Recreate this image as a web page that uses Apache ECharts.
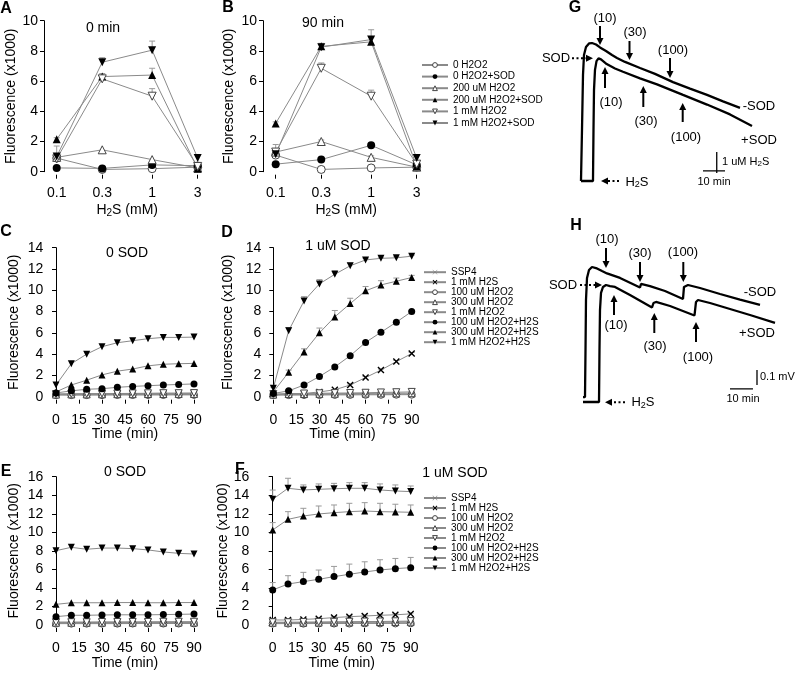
<!DOCTYPE html>
<html><head><meta charset="utf-8">
<script src="https://cdn.jsdelivr.net/npm/echarts@6/dist/echarts.min.js"></script>
<style>html,body{margin:0;padding:0;background:#fff}#c{width:796px;height:673px}</style>
</head><body><div id="c"></div>
<script>
const FONT = 'Liberation Sans, Arial, Helvetica, sans-serif';

// ---------- Panels A / B : fluorescence vs H2S concentration ----------
const h2sConc = [0.1, 0.3, 1, 3];
const abNames = ['0 H2O2', '0 H2O2+SOD', '200 uM H2O2', '200 uM H2O2+SOD', '1 mM H2O2', '1 mM H2O2+SOD'];
const aValues = [
  [0.9, 0.15, 0.2, 0.3],
  [0.25, 0.22, 0.45, 0.4],
  [0.95, 1.45, 0.8, 0.25],
  [2.15, 6.3, 6.4, 0.2],
  [0.85, 6.15, 5.0, 0.35],
  [1.0, 7.25, 8.05, 0.9]
];
const aErrors = [
  [0, 0, 0, 0],
  [0, 0, 0, 0],
  [0, 0, 0, 0],
  [0.1, 0.2, 0.45, 0.1],
  [0.2, 0.2, 0.5, 0.2],
  [0.7, 0.3, 0.6, 0.2]
];
const bValues = [
  [1.1, 0.15, 0.25, 0.3],
  [0.5, 0.8, 1.75, 0.45],
  [1.3, 2.0, 0.95, 0.3],
  [3.2, 8.3, 8.6, 0.35],
  [1.3, 6.85, 5.0, 0.5],
  [1.15, 8.25, 8.75, 0.9]
];
const bErrors = [
  [0, 0, 0, 0],
  [0.1, 0.1, 0.1, 0.1],
  [0.2, 0.1, 0.1, 0],
  [0.1, 0.2, 0.3, 0.1],
  [0.5, 0.35, 0.4, 0.2],
  [0.3, 0.2, 0.65, 0.2]
];

// ---------- Panels C-F : fluorescence vs time ----------
const timeMin = [0, 10, 20, 30, 40, 50, 60, 70, 80, 90];
const cdefNames = ['SSP4', '1 mM H2S', '100 uM H2O2', '300 uM H2O2', '1 mM H2O2', '100 uM H2O2+H2S', '300 uM H2O2+H2S', '1 mM H2O2+H2S'];
const cValues = [
  [0.2, 0.18, 0.2, 0.2, 0.22, 0.2, 0.2, 0.22, 0.2, 0.22],
  [0.25, 0.25, 0.28, 0.28, 0.3, 0.3, 0.3, 0.32, 0.32, 0.32],
  [0.15, 0.15, 0.15, 0.15, 0.16, 0.16, 0.16, 0.16, 0.17, 0.17],
  [0.2, 0.22, 0.22, 0.23, 0.24, 0.24, 0.25, 0.25, 0.26, 0.26],
  [0.25, 0.27, 0.28, 0.3, 0.3, 0.31, 0.32, 0.33, 0.33, 0.34],
  [0.35, 0.55, 0.7, 0.75, 0.88, 0.97, 1.03, 1.1, 1.15, 1.2],
  [0.45, 1.1, 1.55, 2.05, 2.4, 2.6, 2.9, 3.05, 3.1, 3.13],
  [1.1, 3.1, 4.0, 4.7, 5.07, 5.26, 5.45, 5.57, 5.57, 5.6]
];
const dValues = [
  [0.2, 0.2, 0.2, 0.22, 0.22, 0.22, 0.23, 0.23, 0.24, 0.24],
  [0.15, 0.25, 0.3, 0.45, 0.65, 1.1, 1.8, 2.5, 3.3, 4.05],
  [0.15, 0.15, 0.16, 0.16, 0.17, 0.17, 0.18, 0.18, 0.19, 0.19],
  [0.2, 0.25, 0.25, 0.27, 0.28, 0.3, 0.3, 0.32, 0.32, 0.33],
  [0.25, 0.3, 0.3, 0.32, 0.34, 0.35, 0.37, 0.4, 0.42, 0.45],
  [0.3, 0.55, 1.1, 1.9, 2.8, 3.85, 5.1, 6.05, 7.0, 8.0],
  [0.45, 2.3, 4.2, 6.0, 7.5, 8.75, 9.95, 10.5, 10.85, 11.2],
  [0.8, 6.2, 9.0, 10.6, 11.5, 12.3, 12.85, 13.0, 13.05, 13.2]
];
const dErrors = [
  [0, 0, 0, 0, 0, 0, 0, 0, 0, 0],
  [0, 0, 0, 0, 0, 0.1, 0.1, 0.1, 0.1, 0.1],
  [0, 0, 0, 0, 0, 0, 0, 0, 0, 0],
  [0, 0, 0, 0, 0, 0, 0, 0, 0, 0],
  [0, 0, 0, 0, 0, 0, 0, 0, 0, 0],
  [0, 0, 0.1, 0.1, 0.1, 0.1, 0.1, 0.1, 0.1, 0.1],
  [0.1, 0.2, 0.3, 0.45, 0.6, 0.5, 0.4, 0.4, 0.3, 0.2],
  [0.1, 0.3, 0.4, 0.4, 0.35, 0.25, 0.15, 0.1, 0.1, 0.1]
];
const eValues = [
  [0.2, 0.2, 0.2, 0.21, 0.21, 0.21, 0.22, 0.22, 0.22, 0.22],
  [0.3, 0.3, 0.3, 0.31, 0.31, 0.31, 0.32, 0.32, 0.32, 0.33],
  [0.15, 0.15, 0.15, 0.15, 0.15, 0.16, 0.16, 0.16, 0.16, 0.16],
  [0.25, 0.25, 0.25, 0.26, 0.26, 0.26, 0.27, 0.27, 0.27, 0.27],
  [0.3, 0.3, 0.3, 0.32, 0.32, 0.33, 0.33, 0.35, 0.35, 0.35],
  [0.9, 1.05, 1.05, 1.08, 1.1, 1.1, 1.1, 1.12, 1.15, 1.18],
  [2.23, 2.4, 2.4, 2.4, 2.42, 2.42, 2.4, 2.4, 2.42, 2.42],
  [8.02, 8.38, 8.17, 8.3, 8.3, 8.24, 8.1, 7.88, 7.73, 7.66]
];
const fValues = [
  [0.2, 0.2, 0.2, 0.21, 0.22, 0.22, 0.23, 0.23, 0.24, 0.24],
  [0.54, 0.54, 0.6, 0.68, 0.8, 0.9, 0.97, 1.05, 1.1, 1.2],
  [0.15, 0.15, 0.15, 0.16, 0.16, 0.16, 0.17, 0.17, 0.17, 0.18],
  [0.25, 0.25, 0.26, 0.27, 0.28, 0.29, 0.3, 0.32, 0.33, 0.35],
  [0.3, 0.3, 0.32, 0.33, 0.35, 0.36, 0.37, 0.38, 0.4, 0.42],
  [3.78, 4.42, 4.68, 4.93, 5.22, 5.47, 5.72, 5.94, 6.08, 6.19],
  [10.25, 11.4, 11.76, 11.98, 12.12, 12.23, 12.3, 12.23, 12.2, 12.16],
  [13.56, 14.75, 14.57, 14.64, 14.7, 14.75, 14.75, 14.57, 14.46, 14.39]
];
const fErrors = [
  [0, 0, 0, 0, 0, 0, 0, 0, 0, 0],
  [0.1, 0.1, 0.1, 0.1, 0.1, 0.1, 0.1, 0.1, 0.1, 0.1],
  [0, 0, 0, 0, 0, 0, 0, 0, 0, 0],
  [0, 0, 0, 0, 0, 0, 0, 0, 0, 0],
  [0.1, 0.1, 0.1, 0.1, 0.1, 0.1, 0.1, 0.1, 0.1, 0.1],
  [0.8, 0.9, 1.0, 1.0, 1.1, 1.1, 1.1, 1.1, 1.1, 1.1],
  [0.8, 0.83, 0.83, 0.86, 0.83, 0.9, 0.9, 0.9, 0.83, 0.79],
  [1.0, 1.08, 0.54, 0.58, 0.58, 0.61, 0.61, 0.65, 0.65, 0.61]
];

// ---------- Panels G / H : electrode traces (time in min) ----------
const gMinusSodTime = [0, 0.45, 0.91, 1.36, 2.27, 3.64, 5.0, 6.82, 8.64, 11.36, 14.09, 16.36, 20.0, 26.82, 33.64, 41.82, 49.55, 57.27, 64.55, 72.27];
const gMinusSodUM   = [0, 2.43, 5.05, 6.0, 6.38, 6.55, 6.57, 6.5, 6.36, 6.19, 6.0, 5.86, 5.67, 5.38, 5.1, 4.71, 4.4, 4.1, 3.79, 3.48];
const gPlusSodTime  = [0, 5.45, 5.68, 5.91, 6.36, 7.05, 7.95, 9.09, 11.68, 15.45, 19.09, 26.82, 34.55, 46.36, 57.27, 67.73, 77.73];
const gPlusSodUM    = [0, 0, 2.43, 4.33, 5.29, 5.71, 5.84, 5.79, 5.57, 5.36, 5.2, 4.89, 4.6, 4.1, 3.64, 3.17, 2.62];
const hMinusSodTime = [0, 0.87, 1.09, 1.3, 1.74, 2.61, 3.91, 5.65, 8.26, 10.43, 16.09, 24.78, 25.22, 29.13, 35.65, 43.48, 43.91, 45.65, 50.87, 59.57, 68.26, 76.96];
const hMinusSodMV   = [0.033, 0.033, 0.347, 0.68, 0.827, 0.88, 0.9, 0.893, 0.873, 0.857, 0.827, 0.763, 0.787, 0.773, 0.74, 0.687, 0.767, 0.78, 0.76, 0.72, 0.683, 0.647];
const hPlusSodTime  = [0, 6.96, 7.17, 7.39, 7.83, 8.7, 10.0, 11.74, 13.91, 20.43, 30.0, 30.65, 31.74, 37.83, 48.48, 49.13, 50.0, 55.22, 63.91, 72.61, 83.48];
const hPlusSodMV    = [0, 0, 0.347, 0.613, 0.727, 0.767, 0.78, 0.773, 0.767, 0.713, 0.63, 0.66, 0.667, 0.64, 0.577, 0.667, 0.68, 0.66, 0.62, 0.58, 0.527];
const gScaleTime = [55.45, 65.45]; const gScaleUM = [0.38, 1.38];
const hScaleTime = [63.9, 73.9];  const hScaleMV = [0.113, 0.213];

// ---------- styles ----------
// [symbol, rotation, open?]
const abSymbols = [['circle', 0, 1], ['circle', 0, 0], ['triangle', 0, 1], ['triangle', 0, 0], ['triangle', 180, 1], ['triangle', 180, 0]];
const X_THIN = 'path://M0,0.6L0.6,0L5,4.4L9.4,0L10,0.6L5.6,5L10,9.4L9.4,10L5,5.6L0.6,10L0,9.4L4.4,5Z';
const X_BOLD = 'path://M0,1.4L1.4,0L5,3.6L8.6,0L10,1.4L6.4,5L10,8.6L8.6,10L5,6.4L1.4,10L0,8.6L3.6,5Z';
const cdefSymbols = [[X_THIN, 0, 0], [X_BOLD, 0, 0], ['circle', 0, 1], ['triangle', 0, 1], ['triangle', 180, 1], ['circle', 0, 0], ['triangle', 0, 0], ['triangle', 180, 0]];
const OPEN_STYLE = { color: '#fff', borderColor: '#444', borderWidth: 1 };

function lineSeries(gi, name, xs, ys, sym, size) {
  const open = sym[2] === 1;
  const thin = sym[0] === X_THIN;
  return {
    type: 'line', name, xAxisIndex: gi, yAxisIndex: gi,
    data: xs.map((x, i) => [x, ys[i]]),
    symbol: sym[0], symbolRotate: sym[1], symbolSize: size,
    lineStyle: { color: '#8a8a8a', width: 1 },
    itemStyle: open ? OPEN_STYLE : { color: thin ? '#777' : '#000', borderWidth: 0 },
    emphasis: { disabled: true }, z: 3, animation: false
  };
}
function errSeries(gi, xs, vals, errs) {
  const data = [];
  vals.forEach((row, s) => row.forEach((v, i) => { if (errs[s][i] > 0) data.push([xs[i], v, v + errs[s][i]]); }));
  return {
    type: 'custom', xAxisIndex: gi, yAxisIndex: gi, silent: true, z: 2, animation: false,
    encode: { x: 0, y: [1, 2] }, data,
    renderItem: (params, api) => {
      const p0 = api.coord([api.value(0), api.value(1)]);
      const p1 = api.coord([api.value(0), api.value(2)]);
      return { type: 'group', children: [
        { type: 'line', shape: { x1: p0[0], y1: p0[1], x2: p1[0], y2: p1[1] }, style: { stroke: '#999', lineWidth: 1 } },
        { type: 'line', shape: { x1: p1[0] - 3, y1: p1[1], x2: p1[0] + 3, y2: p1[1] }, style: { stroke: '#999', lineWidth: 1 } }
      ]};
    }
  };
}
function yAxisF(gi, max, interval, offset, nameGap) {
  return {
    type: 'value', gridIndex: gi, min: 0, max, interval, offset,
    name: 'Fluorescence (x1000)', nameLocation: 'middle', nameGap,
    nameTextStyle: { fontSize: 14, color: '#000', fontFamily: FONT },
    axisLine: { show: true, lineStyle: { color: '#000', width: 1 } },
    axisTick: { show: true, inside: false, length: 4, lineStyle: { color: '#000' } },
    axisLabel: { fontSize: 14, color: '#000', margin: 6, fontFamily: FONT },
    splitLine: { show: false }
  };
}
const subRich = { sub: { fontSize: 10, fontFamily: FONT, color: '#000', padding: [7, 0, 0, 0] } };
function xAxisConc(gi) {
  return {
    type: 'log', logBase: 10, gridIndex: gi, min: 0.1, max: 3, offset: 3,
    name: 'H{sub|2}S (mM)', nameLocation: 'middle', nameGap: 27,
    nameTextStyle: { fontSize: 14, color: '#000', fontFamily: FONT, rich: subRich },
    axisLine: { show: false, onZero: false },
    axisTick: { show: true, length: 4, customValues: h2sConc, lineStyle: { color: '#000' } },
    axisLabel: { fontSize: 14, color: '#000', margin: 11, fontFamily: FONT, customValues: h2sConc,
      formatter: v => String(Number(Number(v).toPrecision(2))) },
    splitLine: { show: false }, minorTick: { show: false }
  };
}
function xAxisTime(gi) {
  return {
    type: 'value', gridIndex: gi, min: 0, max: 90, interval: 15, offset: 3,
    name: 'Time (min)', nameLocation: 'middle', nameGap: 27,
    nameTextStyle: { fontSize: 14, color: '#000', fontFamily: FONT },
    axisLine: { show: false, onZero: false },
    axisTick: { show: true, length: 4, lineStyle: { color: '#000' } },
    axisLabel: { fontSize: 14, color: '#000', margin: 13, fontFamily: FONT },
    splitLine: { show: false }
  };
}
function hiddenAxis(gi, min, max) { return { type: 'value', gridIndex: gi, min, max, show: false }; }

const series = [];
aValues.forEach((ys, s) => series.push(lineSeries(0, abNames[s], h2sConc, ys, abSymbols[s], 8)));
bValues.forEach((ys, s) => series.push(lineSeries(1, abNames[s], h2sConc, ys, abSymbols[s], 8)));
[cValues, dValues, eValues, fValues].forEach((vals, k) => {
  vals.forEach((ys, s) => series.push(lineSeries(2 + k, cdefNames[s], timeMin, ys, cdefSymbols[s], 7)));
});
series.push(errSeries(0, h2sConc, aValues, aErrors));
series.push(errSeries(1, h2sConc, bValues, bErrors));
series.push(errSeries(3, timeMin, dValues, dErrors));
series.push(errSeries(5, timeMin, fValues, fErrors));

function trace(gi, xs, ys, w) {
  return { type: 'line', xAxisIndex: gi, yAxisIndex: gi, data: xs.map((x, i) => [x, ys[i]]),
    showSymbol: false, symbol: 'none', lineStyle: { color: '#000', width: w }, emphasis: { disabled: true }, animation: false, silent: true };
}
series.push(trace(6, gMinusSodTime, gMinusSodUM, 2.3));
series.push(trace(6, gPlusSodTime, gPlusSodUM, 2.3));
series.push(trace(6, gScaleTime, [0.48, 0.48], 1.3));
series.push(trace(6, [61.7, 61.7], gScaleUM, 1.3));
series.push(trace(7, hMinusSodTime, hMinusSodMV, 2.3));
series.push(trace(7, hPlusSodTime, hPlusSodMV, 2.3));
series.push(trace(7, hScaleTime, [0.087, 0.087], 1.3));
series.push(trace(7, [75.65, 75.65], hScaleMV, 1.3));

// ---------- graphic annotations ----------
const G = [];
function txt(x, y, text, size, opts) {
  opts = opts || {};
  G.push({ type: 'text', x, y, silent: true, z: 10, style: Object.assign({
    text, fill: '#000', fontSize: size, fontFamily: FONT, fontWeight: opts.bold ? 'bold' : 'normal',
    align: opts.align || 'center', verticalAlign: 'middle' }, opts.rich ? { rich: opts.rich } : {}) });
}
function arrowV(x, yFrom, yTip) {
  const d = yTip > yFrom ? 1 : -1;
  G.push({ type: 'line', silent: true, shape: { x1: x, y1: yFrom, x2: x, y2: yTip - d * 5 }, style: { stroke: '#000', lineWidth: 2 } });
  G.push({ type: 'polygon', silent: true, shape: { points: [[x - 3.5, yTip - d * 7], [x + 3.5, yTip - d * 7], [x, yTip]] }, style: { fill: '#000' } });
}
function dottedH(x1, x2, y) {
  const d = x2 > x1 ? 1 : -1;
  G.push({ type: 'line', silent: true, shape: { x1, y1: y, x2: x2 - d * 5, y2: y }, style: { stroke: '#000', lineWidth: 2, lineDash: [2, 2.5] } });
  G.push({ type: 'polygon', silent: true, shape: { points: [[x2 - d * 7, y - 3.5], [x2 - d * 7, y + 3.5], [x2, y]] }, style: { fill: '#000' } });
}
const subR = { s: { fontSize: 9, fontFamily: FONT, fill: '#000', padding: [6, 0, 0, 0] } };
[['A', 6, 9], ['B', 228, 8], ['C', 6, 232], ['D', 227, 233], ['E', 6, 472], ['F', 240, 470], ['G', 575, 8], ['H', 576, 226]]
  .forEach(l => txt(l[1], l[2], l[0], 16, { bold: true }));
txt(103, 28, '0 min', 14); txt(323, 23, '90 min', 14);
txt(127, 253, '0 SOD', 14); txt(338, 246, '1 uM SOD', 14);
txt(125, 472, '0 SOD', 14); txt(455, 473, '1 uM SOD', 14);
// G annotations
txt(605, 18, '(10)', 13); arrowV(600, 26, 45);
txt(635, 32, '(30)', 13); arrowV(629.5, 41, 60);
txt(673, 50, '(100)', 13); arrowV(670, 58, 78);
txt(611, 102, '(10)', 13); arrowV(605, 88, 67);
txt(646, 121, '(30)', 13); arrowV(643.3, 107, 86);
txt(686, 137, '(100)', 13); arrowV(682.7, 122, 103);
txt(759, 106, '-SOD', 13); txt(759, 140, '+SOD', 13);
txt(556, 58, 'SOD', 13); dottedH(572, 593, 58.3);
dottedH(619, 601, 181); txt(637, 182, 'H{s|2}S', 13, { rich: subR });
txt(722, 161.5, '1 uM H{s|2}S', 11, { align: 'left', rich: { s: { fontSize: 8, fontFamily: FONT, fill: '#000', padding: [5, 0, 0, 0] } } });
txt(714, 182, '10 min', 11);
// H annotations
txt(607, 239, '(10)', 13); arrowV(606, 248, 268);
txt(640, 253, '(30)', 13); arrowV(640, 262, 282);
txt(683, 252, '(100)', 13); arrowV(683.3, 262, 282);
txt(616, 325, '(10)', 13); arrowV(614, 315, 295);
txt(655, 346, '(30)', 13); arrowV(654.3, 333, 313);
txt(698, 357, '(100)', 13); arrowV(696, 342, 322);
txt(760, 292, '-SOD', 13); txt(757, 333, '+SOD', 13);
txt(563, 285, 'SOD', 13); dottedH(580, 602, 285);
dottedH(625, 605, 402.3); txt(643, 402.5, 'H{s|2}S', 13, { rich: subR });
txt(760, 377, '0.1 mV', 11, { align: 'left' });
txt(743, 399, '10 min', 11);

function legend(names, syms, left, top, iw, lh) {
  const data = names.map((n, i) => syms[i][2] === 1 ? { name: n, itemStyle: OPEN_STYLE } : n);
  return { orient: 'vertical', left, top, itemWidth: iw, itemHeight: 6, itemGap: 0, data, selectedMode: false,
    padding: 0, textStyle: { fontSize: 10, lineHeight: lh, color: '#000', fontFamily: FONT } };
}

const option = {
  animation: false,
  backgroundColor: '#fff',
  textStyle: { fontFamily: FONT },
  grid: [
    { left: 56.7, top: 20.7, width: 141, height: 151 },
    { left: 275.7, top: 20.7, width: 141, height: 151 },
    { left: 56, top: 247.7, width: 138, height: 149 },
    { left: 273.3, top: 247.7, width: 138.4, height: 149 },
    { left: 56, top: 476.7, width: 138, height: 148.3 },
    { left: 272.7, top: 476.7, width: 138, height: 148.3 },
    { left: 570, top: 2.5, width: 224.4, height: 199.5 },
    { left: 571.5, top: 237, width: 223.1, height: 195 }
  ],
  xAxis: [xAxisConc(0), xAxisConc(1), xAxisTime(2), xAxisTime(3), xAxisTime(4), xAxisTime(5), hiddenAxis(6, -5, 97), hiddenAxis(7, -5, 92)],
  yAxis: [yAxisF(0, 10, 2, 12.7, 23), yAxisF(1, 10, 2, 12.7, 27), yAxisF(2, 14, 2, 6.7, 28), yAxisF(3, 14, 2, 6, 32),
          yAxisF(4, 16, 2, 6.7, 28), yAxisF(5, 16, 2, 17.4, 18), hiddenAxis(6, -1, 8.5), hiddenAxis(7, -0.2, 1.1)],
  legend: [legend(abNames, abSymbols, 421, 59.2, 26, 11.6), legend(cdefNames, cdefSymbols, 423, 267.2, 22, 9.1),
           legend(cdefNames, cdefSymbols, 423, 493, 22, 9.37)],
  series,
  graphic: { elements: G }
};
const chart = echarts.init(document.getElementById('c'), null, { renderer: 'canvas', width: 796, height: 673 });
chart.setOption(option);
</script></body></html>
